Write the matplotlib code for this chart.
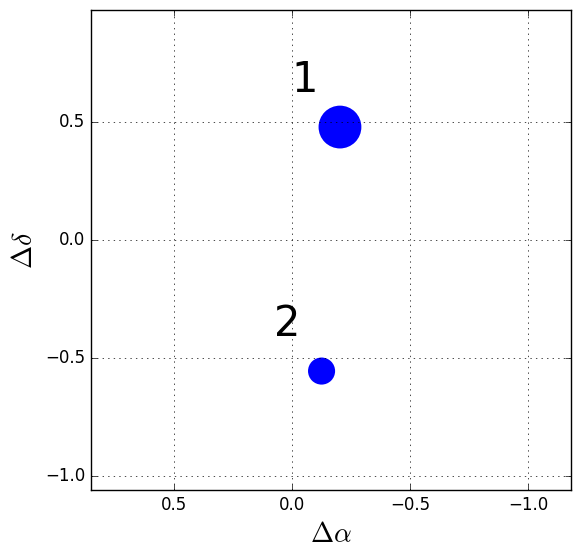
import matplotlib
matplotlib.use('Agg')
import matplotlib.pyplot as plt

# offsets of the two components
labels = ['1', '2']
d_alpha = [-0.203, -0.125]
d_delta = [0.479, -0.555]
sizes = [950, 380]
label_x = [-0.055, 0.022]
label_y = [0.68, -0.355]

plt.style.use('classic')
fig = plt.figure(figsize=(5.8, 5.58), dpi=100)
ax = fig.add_axes([91 / 580, 1 - 490 / 558, 480 / 580, 480 / 558])

ax.scatter(d_alpha, d_delta, s=sizes, c='blue', edgecolors='none', zorder=1)
for lab, x, y in zip(labels, label_x, label_y):
    ax.text(x, y, lab, fontsize=30, ha='center', va='center')

ax.set_xlim(0.852, -1.182)
ax.set_ylim(-1.059, 0.975)
ax.set_xticks([0.5, 0.0, -0.5, -1.0])
ax.set_yticks([0.5, 0.0, -0.5, -1.0])
ax.tick_params(labelsize=12)
ax.grid(True)
ax.set_xlabel(r'$\Delta\alpha$', fontsize=20)
ax.set_ylabel(r'$\Delta\delta$', fontsize=20)

plt.savefig('out.png', dpi=100)
